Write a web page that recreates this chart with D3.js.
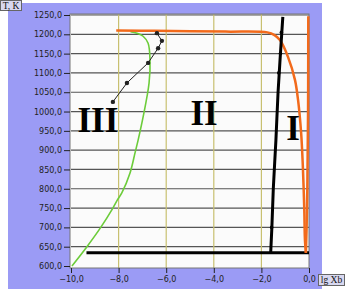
<!DOCTYPE html>
<html>
<head>
<meta charset="utf-8">
<script src="https://cdn.jsdelivr.net/npm/d3@7"></script>
<style>
  body { margin: 0; background: #fff; }
</style>
</head>
<body>
<svg id="chart" width="355" height="296"></svg>
<script>
// axis ticks
const xTicks = [-10, -8, -6, -4, -2, 0];
const yTicks = d3.range(600, 1251, 50);
const xGrid = [-8, -6, -4, -2];

// curves: [lg Xb, T]
const greenCurve = [[-9.96, 600], [-9.33, 650], [-8.75, 700], [-8.24, 750], [-8.05, 771],
    [-7.86, 790], [-7.52, 841], [-7.31, 893], [-7.18, 926], [-6.97, 986], [-6.72, 1074],
    [-6.68, 1133], [-6.76, 1177], [-6.97, 1195], [-7.23, 1203], [-7.5, 1207]];
const orangeCurve = [[-8.1, 1210], [-6.5, 1209], [-3.5, 1207], [-1.75, 1205], [-1.45, 1198],
    [-1.22, 1185], [-0.88, 1141], [-0.59, 1082], [-0.46, 1030], [-0.33, 944], [-0.26, 860],
    [-0.2, 750], [-0.17, 667], [-0.13, 634]];
const orangeEdge = [[-0.03, 1247], [-0.04, 1000], [-0.07, 800], [-0.1, 700], [-0.13, 634]];
const blackThick = [[-1.1, 1245], [-1.2, 1150], [-1.3, 1050], [-1.39, 926], [-1.5, 800],
    [-1.56, 700], [-1.61, 634]];
const blackDots = [[-1.16, 1205], [-1.2, 1150], [-1.27, 1100], [-1.57, 700]];
const baseLine = [[-9.35, 634], [0, 634]];
const experiment = [[-8.24, 1025], [-7.65, 1074], [-6.76, 1126], [-6.34, 1164], [-6.18, 1183], [-6.39, 1203]];
const regionLabels = [
    { text: "III", x: -8.87, t: 947 },
    { text: "II", x: -4.41, t: 965 },
    { text: "I", x: -0.67, t: 926 }
];

const svg = d3.select("#chart");
const area = { left: 71, right: 309, top: 15, bottom: 266 };

const scaleX = d3.scaleLinear().domain([-10, 0]).range([area.left, area.right]);
const scaleY = d3.scaleLinear().domain([600, 1250]).range([area.bottom, area.top]);

// background panel
svg.append("rect")
    .attr("x", 8).attr("y", 3)
    .attr("width", 314).attr("height", 286)
    .attr("fill", "#9b9bf5");

svg.append("rect")
    .attr("x", area.left - 1).attr("y", area.top - 1)
    .attr("width", area.right - area.left + 1).attr("height", area.bottom - area.top + 3)
    .attr("fill", "#fbfbfb");

// grid
svg.append("g").selectAll("line")
    .data(yTicks.slice(1))
    .enter()
    .append("line")
    .attr("x1", area.left).attr("x2", area.right)
    .attr("y1", d => scaleY(d)).attr("y2", d => scaleY(d))
    .attr("stroke", "#555")
    .attr("stroke-width", 1.2);

svg.append("g").selectAll("line")
    .data(xGrid)
    .enter()
    .append("line")
    .attr("x1", d => scaleX(d)).attr("x2", d => scaleX(d))
    .attr("y1", area.top - 1).attr("y2", area.bottom + 2)
    .attr("stroke", "#c8c070")
    .attr("stroke-width", 1.2);

// plot border
svg.append("rect")
    .attr("x", area.left - 1).attr("y", area.top - 1)
    .attr("width", area.right - area.left + 1).attr("height", area.bottom - area.top + 3)
    .attr("fill", "none")
    .attr("stroke", "#777");

// axes
const axisY = d3.axisLeft(scaleY)
    .tickValues(yTicks)
    .tickSize(6)
    .tickFormat(d => d3.format(".1f")(d).replace(".", ","));

const gy = svg.append("g")
    .attr("transform", `translate(${area.left - 1},0)`)
    .call(axisY);
gy.select(".domain").remove();
gy.selectAll("line").attr("stroke", "#222");
gy.selectAll("text")
    .style("font-family", "'DejaVu Sans', sans-serif")
    .style("font-size", "8px")
    .attr("fill", "#222")
    .attr("x", -8);

const axisX = d3.axisBottom(scaleX)
    .tickValues(xTicks)
    .tickSize(5)
    .tickFormat(d => d3.format(".1f")(d).replace(".", ","));

const gx = svg.append("g")
    .attr("transform", `translate(0,${area.bottom + 2})`)
    .call(axisX);
gx.select(".domain").remove();
gx.selectAll("line").attr("stroke", "#222");
gx.selectAll("text")
    .style("font-family", "'DejaVu Sans', sans-serif")
    .style("font-size", "8px")
    .attr("fill", "#222")
    .attr("y", 8);

// curves
const line = d3.line()
    .x(d => scaleX(d[0]))
    .y(d => scaleY(d[1]))
    .curve(d3.curveMonotoneY);

const smooth = d3.line()
    .x(d => scaleX(d[0]))
    .y(d => scaleY(d[1]))
    .curve(d3.curveCatmullRom);

const straight = d3.line()
    .x(d => scaleX(d[0]))
    .y(d => scaleY(d[1]));

const plot = svg.append("g");

plot.append("path")
    .datum(greenCurve)
    .attr("fill", "none")
    .attr("stroke", "#6ccc3a")
    .attr("stroke-width", 1.6)
    .attr("d", smooth);

plot.append("path")
    .datum(baseLine)
    .attr("fill", "none")
    .attr("stroke", "#000")
    .attr("stroke-width", 3)
    .attr("d", straight);

plot.append("path")
    .datum(orangeCurve)
    .attr("fill", "none")
    .attr("stroke", "#f26a1b")
    .attr("stroke-width", 2.5)
    .attr("d", smooth);

plot.append("path")
    .datum(orangeEdge)
    .attr("fill", "none")
    .attr("stroke", "#f26a1b")
    .attr("stroke-width", 2.5)
    .attr("d", line);

plot.append("path")
    .datum(blackThick)
    .attr("fill", "none")
    .attr("stroke", "#000")
    .attr("stroke-width", 3)
    .attr("d", line);

plot.selectAll(".thick-dot")
    .data(blackDots)
    .enter()
    .append("circle")
    .attr("class", "thick-dot")
    .attr("r", 1.8)
    .attr("cx", d => scaleX(d[0]))
    .attr("cy", d => scaleY(d[1]))
    .attr("fill", "#000");

plot.append("path")
    .datum(experiment)
    .attr("fill", "none")
    .attr("stroke", "#222")
    .attr("stroke-width", 1)
    .attr("d", straight);

plot.selectAll(".exp-dot")
    .data(experiment)
    .enter()
    .append("circle")
    .attr("class", "exp-dot")
    .attr("r", 2.2)
    .attr("cx", d => scaleX(d[0]))
    .attr("cy", d => scaleY(d[1]))
    .attr("fill", "#222");

// region labels
plot.selectAll(".region")
    .data(regionLabels)
    .enter()
    .append("text")
    .attr("class", "region")
    .attr("x", d => scaleX(d.x))
    .attr("y", d => scaleY(d.t))
    .attr("text-anchor", "middle")
    .style("font-family", "'Liberation Serif', serif")
    .style("font-weight", "bold")
    .style("font-size", "35px")
    .attr("fill", "#000")
    .text(d => d.text);

// axis titles
const titleY = svg.append("g");
titleY.append("rect")
    .attr("x", 0.5).attr("y", 0.5).attr("width", 21).attr("height", 10)
    .attr("fill", "#d8d8f0").attr("stroke", "#666");
titleY.append("text")
    .attr("x", 11).attr("y", 8.5)
    .attr("text-anchor", "middle")
    .style("font-family", "'Liberation Serif', serif")
    .style("font-size", "9.5px")
    .attr("fill", "#111")
    .text("T, K");

const titleX = svg.append("g");
titleX.append("rect")
    .attr("x", 318.5).attr("y", 274.5).attr("width", 26).attr("height", 11)
    .attr("fill", "#d8d8f0").attr("stroke", "#666");
titleX.append("text")
    .attr("x", 331.5).attr("y", 283)
    .attr("text-anchor", "middle")
    .style("font-family", "'Liberation Serif', serif")
    .style("font-size", "9.5px")
    .attr("fill", "#111")
    .text("lg Xb");
</script>
</body>
</html>
